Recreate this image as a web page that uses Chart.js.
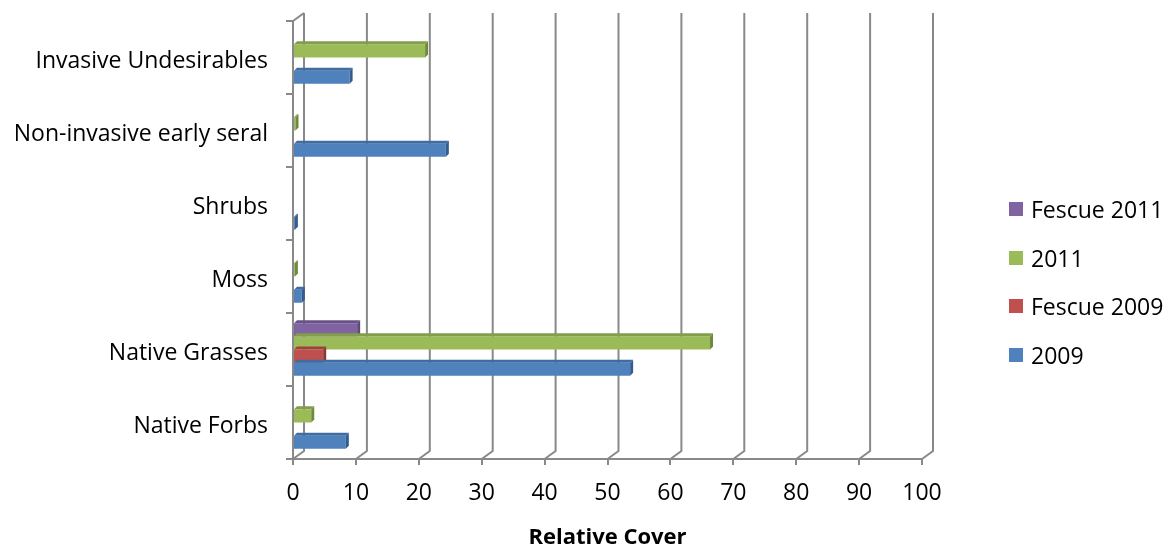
<!DOCTYPE html>
<html>
<head>
<meta charset="utf-8">
<script src="https://cdn.jsdelivr.net/npm/chart.js@4/dist/chart.umd.min.js"></script>
<style>
    html, body { margin: 0; padding: 0; background: #fff; }
    #wrap { width: 1167px; height: 548px; position: relative; }
    #legend { position: absolute; left: 1009px; top: 196px; font: 23px "Open Sans", sans-serif; color: #000; }
    .legend-item { height: 48.7px; display: flex; align-items: flex-start; white-space: nowrap; }
    .legend-item .swatch { width: 14px; height: 14px; margin-top: 6px; margin-right: 8px; }
    .legend-item span { line-height: 26px; }
</style>
</head>
<body>
<div id="wrap">
    <canvas id="cover-chart"></canvas>
    <div id="legend"></div>
</div>
<script>
const categories = ['Invasive Undesirables', 'Non-invasive early seral', 'Shrubs', 'Moss', 'Native Grasses', 'Native Forbs'];
const fescue2011 = [0, 0, 0, 0, 10.2, 0];
const cover2011 = [21, 0.4, 0, 0.3, 66.3, 2.9];
const fescue2009 = [0, 0, 0, 0, 4.8, 0];
const cover2009 = [9, 24.3, 0.3, 1.4, 53.6, 8.4];
const xTicks = [0, 10, 20, 30, 40, 50, 60, 70, 80, 90, 100];

const FONT = '"Open Sans", sans-serif';
const GRID = '#898989';
const DEPTH = { dx: 11, dy: -8 };

// fake excel 3d: back wall grid + floor diagonals
const wallPlugin = {
    id: 'wall',
    beforeDatasetsDraw(chart) {
        const { ctx, chartArea, scales } = chart;
        const x = scales.x;
        ctx.save();
        ctx.strokeStyle = GRID;
        ctx.lineWidth = 2;
        xTicks.forEach(v => {
            const px = x.getPixelForValue(v);
            ctx.beginPath();
            ctx.moveTo(px, chartArea.bottom);
            ctx.lineTo(px + DEPTH.dx, chartArea.bottom + DEPTH.dy);
            ctx.lineTo(px + DEPTH.dx, chartArea.top + DEPTH.dy);
            ctx.stroke();
        });
        // top-left corner of the wall
        ctx.beginPath();
        ctx.moveTo(chartArea.left, chartArea.top);
        ctx.lineTo(chartArea.left + DEPTH.dx, chartArea.top + DEPTH.dy);
        ctx.stroke();
        ctx.restore();
    }
};

// darker end cap and top face so the bars look like boxes
const boxPlugin = {
    id: 'boxes',
    afterDatasetsDraw(chart) {
        const ctx = chart.ctx;
        const d = 3;
        chart.data.datasets.forEach((ds, i) => {
            chart.getDatasetMeta(i).data.forEach(bar => {
                const { x, y, base, height } = bar.getProps(['x', 'y', 'base', 'height'], true);
                if (x - base <= 0) return;
                const top = y - height / 2, bot = y + height / 2;
                ctx.save();
                ctx.fillStyle = ds.sideColor;
                ctx.beginPath();
                ctx.moveTo(x, top);
                ctx.lineTo(x + d, top - d);
                ctx.lineTo(x + d, bot - d);
                ctx.lineTo(x, bot);
                ctx.closePath();
                ctx.fill();
                ctx.fillStyle = ds.topColor;
                ctx.beginPath();
                ctx.moveTo(base, top);
                ctx.lineTo(base + d, top - d);
                ctx.lineTo(x + d, top - d);
                ctx.lineTo(x, top);
                ctx.closePath();
                ctx.fill();
                ctx.restore();
            });
        });
    }
};

const CoverChart = {
    chart: null,

    render() {
        const ctx = document.getElementById('cover-chart');
        if (this.chart) this.chart.destroy();

        this.chart = new Chart(ctx, {
            type: 'bar',
            data: {
                labels: categories,
                datasets: [
                    { label: 'Fescue 2011', data: fescue2011, backgroundColor: '#8064A2', sideColor: '#5E4A78', topColor: '#6A5288' },
                    { label: '2011', data: cover2011, backgroundColor: '#9BBB59', sideColor: '#6F8A3C', topColor: '#829E48' },
                    { label: 'Fescue 2009', data: fescue2009, backgroundColor: '#C0504D', sideColor: '#8E3533', topColor: '#A3403D' },
                    { label: '2009', data: cover2009, backgroundColor: '#4F81BD', sideColor: '#345D8E', topColor: '#3F6CA2' }
                ]
            },
            options: {
                indexAxis: 'y',
                responsive: true,
                maintainAspectRatio: false,
                animation: false,
                categoryPercentage: 0.72,
                barPercentage: 1,
                layout: { padding: { top: 21, right: 245, left: 0, bottom: 0 } },
                plugins: {
                    tooltip: { enabled: false },
                    legend: { display: false }
                },
                scales: {
                    x: {
                        min: 0,
                        max: 100,
                        afterBuildTicks(axis) { axis.ticks = xTicks.map(v => ({ value: v })); },
                        afterFit(axis) { axis.height = 89; axis.paddingLeft = 0; axis.paddingRight = 0; },
                        grid: { drawOnChartArea: false, drawTicks: true, tickLength: 6, color: GRID, lineWidth: 2 },
                        border: { color: GRID, width: 2 },
                        ticks: { font: { family: FONT, size: 23 }, color: '#000', padding: 15, maxRotation: 0 },
                        title: { display: true, text: 'Relative Cover', font: { family: FONT, size: 22, weight: 'bold' }, color: '#000', padding: { top: 4, bottom: -3 } }
                    },
                    y: {
                        afterFit(axis) { axis.width = 293; axis.paddingTop = 0; axis.paddingBottom = 0; },
                        grid: { drawOnChartArea: false, drawTicks: true, tickLength: 7, color: GRID, lineWidth: 2, offset: true },
                        border: { color: GRID, width: 2 },
                        ticks: { font: { family: FONT, size: 23 }, color: '#000', padding: 18, labelOffset: 4 }
                    }
                }
            },
            plugins: [wallPlugin, boxPlugin]
        });

        this.renderLegend();
    },

    renderLegend() {
        const container = document.getElementById('legend');
        // excel lists the legend top-down in dataset order here
        container.innerHTML = this.chart.data.datasets.map(ds => `
            <div class="legend-item">
                <div class="swatch" style="background:${ds.backgroundColor}"></div>
                <span>${ds.label}</span>
            </div>
        `).join('');
    }
};

CoverChart.render();
</script>
</body>
</html>
